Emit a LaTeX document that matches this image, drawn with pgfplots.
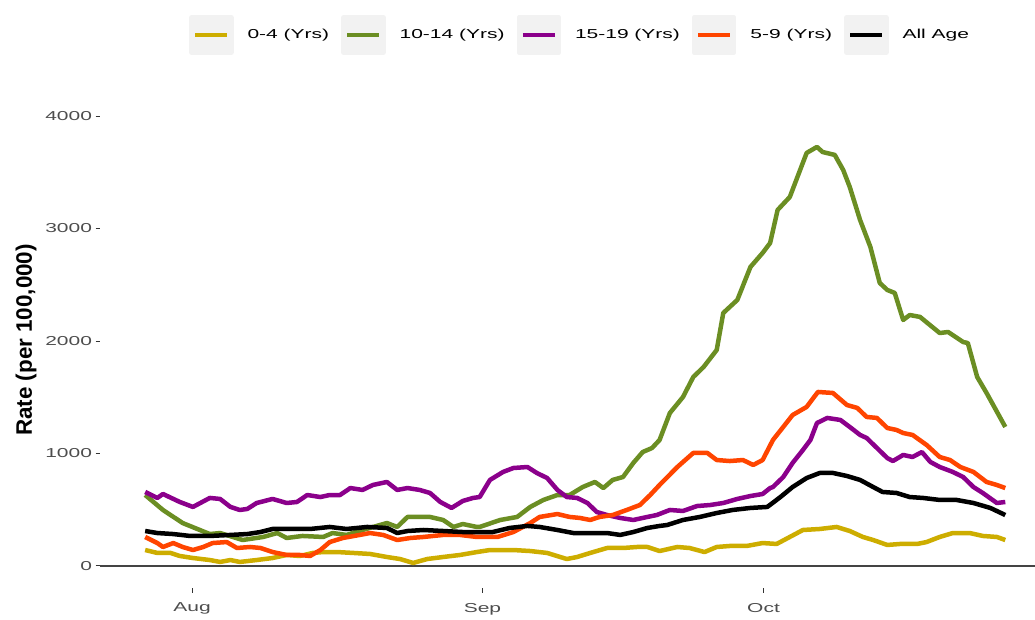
\documentclass[border=0pt]{standalone}
\usepackage{pgfplots}
\pgfplotsset{compat=1.18}
\usepackage{fontspec}
\setmainfont{Liberation Sans}[FakeStretch=1.62]
\newfontfamily\titlefont{Liberation Sans}
\definecolor{cGold}{HTML}{CDAD00}
\definecolor{cOlive}{HTML}{6B8E23}
\definecolor{cPurple}{HTML}{8B008B}
\definecolor{cOrange}{HTML}{FF4500}
\definecolor{keygray}{HTML}{F2F2F2}
\definecolor{labgray}{HTML}{4D4D4D}
\definecolor{tickgray}{HTML}{333333}
\definecolor{zerogray}{HTML}{444444}

\pgfplotstableread{
d v
-5.0 142
-3.7 116
-2.3 116
-1.3 89
0.1 71
1.9 53
3.0 36
4.1 53
5.1 36
6.9 53
8.6 71
10.1 98
11.5 89
12.9 116
14.0 124
15.5 124
17.2 116
19.0 107
20.8 80
22.2 62
23.6 27
25.1 62
26.8 80
28.6 98
30.4 124
31.8 142
34.3 142
36.1 133
37.9 116
39.3 80
40.0 62
41.1 80
42.5 116
44.3 160
46.0 160
47.5 169
48.6 169
49.9 133
51.8 169
53.1 160
54.7 124
56.0 169
57.4 178
59.2 178
60.9 204
62.4 196
63.8 258
65.2 320
67.0 329
68.8 347
70.2 311
71.6 258
72.7 231
74.2 187
75.6 196
77.4 196
78.4 213
79.8 258
81.2 293
83.0 293
84.4 267
85.9 258
86.8 231
}\tGold

\pgfplotstableread{
d v
-5.0 631
-3.1 498
-1.0 382
1.9 284
3.0 293
5.4 231
7.6 258
9.1 293
10.1 249
11.8 267
14.0 258
15.0 293
16.5 276
18.2 320
20.8 382
21.9 347
23.0 436
25.4 436
26.8 409
27.9 347
28.9 373
30.4 347
30.7 347
32.9 409
34.7 436
36.1 525
37.5 587
39.0 631
40.3 631
41.7 702
43.0 747
43.9 693
44.9 765
46.0 791
47.1 916
48.1 1013
49.1 1049
49.9 1120
51.0 1360
52.4 1502
53.5 1680
54.6 1769
56.0 1920
56.7 2249
58.2 2365
59.6 2658
60.9 2783
61.7 2871
62.5 3165
63.8 3280
64.9 3520
65.6 3672
66.7 3725
67.3 3680
68.6 3654
69.5 3520
70.2 3369
71.3 3076
72.4 2836
73.4 2516
74.2 2454
75.0 2427
75.9 2187
76.6 2231
77.7 2214
79.8 2071
80.7 2080
82.3 1991
82.8 1982
83.8 1680
84.8 1538
86.8 1236
}\tOlive

\pgfplotstableread{
d v
-5.0 658
-3.7 605
-3.1 640
-1.3 569
0.1 525
1.9 605
3.0 596
4.1 525
5.1 498
5.9 507
6.9 560
8.6 596
10.1 560
11.2 569
12.3 631
13.7 613
14.7 631
15.8 631
16.9 693
18.2 676
19.3 720
20.8 747
21.9 676
23.0 693
24.3 676
25.4 649
26.5 569
27.7 516
28.9 578
30.0 605
30.7 613
31.8 765
33.2 836
34.3 871
35.8 880
36.8 827
37.9 782
39.0 676
40.0 613
41.1 605
42.2 560
43.2 480
44.3 453
45.7 427
47.1 409
48.6 436
49.6 453
51.0 498
52.4 489
53.9 533
55.3 542
56.7 560
58.2 596
59.6 622
60.9 640
61.7 693
62.0 702
63.1 791
64.1 916
65.2 1031
66.0 1120
66.7 1271
67.8 1316
69.2 1298
70.2 1236
71.3 1165
72.0 1138
73.1 1049
74.2 960
74.8 933
75.9 987
76.9 969
77.9 1013
78.8 925
79.8 880
81.2 836
82.3 791
83.4 702
84.4 649
85.9 560
86.8 569
}\tPurple

\pgfplotstableread{
d v
-5.0 258
-3.7 204
-3.1 169
-2.0 204
-1.0 169
0.1 142
1.2 169
2.2 204
3.7 213
4.8 160
6.2 169
7.3 160
8.6 124
10.1 98
11.5 98
12.6 89
13.7 142
14.7 213
16.1 249
17.9 276
19.0 293
20.4 276
21.9 231
23.3 249
24.7 258
26.8 276
28.6 276
30.4 258
31.8 258
32.6 258
34.3 302
36.1 382
37.1 436
39.0 462
40.3 436
41.4 427
42.5 409
43.5 436
44.9 453
46.4 498
47.8 542
48.9 631
49.9 720
51.8 880
53.5 1005
55.0 1005
56.0 942
57.4 933
58.8 942
59.9 898
60.9 942
62.0 1120
63.1 1236
64.1 1342
65.6 1414
66.8 1547
68.4 1538
69.9 1431
71.0 1405
72.0 1325
73.1 1316
74.2 1227
75.2 1209
75.9 1182
76.9 1165
78.4 1076
79.8 969
80.9 942
82.0 880
83.4 836
84.8 747
85.9 720
86.8 693
}\tOrange

\pgfplotstableread{
d v
-5.0 311
-3.7 293
-2.0 284
-0.2 267
1.9 267
4.1 276
5.9 284
7.3 302
8.6 329
10.5 329
12.6 329
14.7 347
16.5 329
18.7 347
20.8 338
21.9 293
23.0 311
24.7 320
26.8 311
28.9 302
30.4 302
32.1 302
33.9 338
35.8 356
37.1 347
39.0 320
40.7 293
42.5 293
44.3 293
45.7 276
47.1 302
48.6 338
49.9 356
50.7 364
52.4 409
54.2 436
56.0 471
57.7 498
59.6 516
61.4 525
62.8 613
64.1 702
65.6 782
67.0 827
68.4 827
69.9 800
71.3 765
72.7 702
73.7 658
75.2 649
76.6 613
78.0 605
79.8 587
81.6 587
83.4 560
85.2 516
86.8 453
}\tAll

\begin{document}
\begin{tikzpicture}[x=1bp,y=1bp]
\begin{axis}[
  at={(100bp,32bp)}, anchor=south west,
  scale only axis, width=935bp, height=518bp,
  xmin=-9.82, xmax=89.97, ymin=-195.6, ymax=4409,
  axis x line*=bottom, axis y line*=left,
  axis line style={draw=none},
  tick align=outside, major tick length=4.5bp,
  tick style={color=tickgray, line width=1bp},
  xtick={0,31,61}, xticklabels={Aug,Sep,Oct},
  ytick={0,1000,2000,3000,4000},
  yticklabels={0,1000,2000,3000,4000},
  ticklabel style={font=\fontsize{13}{15}\selectfont, text=labgray},
  xticklabel style={yshift=-7bp},
  every axis plot/.append style={line width=4.5bp, line join=round},
  legend columns=5,
  legend cell align=left,
  legend style={draw=none, fill=none, at={(axis description cs:0.5134,1.0676)}, anchor=center,
    font=\fontsize{13}{15}\selectfont,
    /tikz/every odd column/.append style={column sep=12bp},
    /tikz/every even column/.append style={column sep=10bp}},
  legend image code/.code={
    \fill[keygray] (0bp,-17.5bp) rectangle (40bp,17.5bp);
    \draw[#1,line width=4.5bp] (4bp,0bp) -- (36bp,0bp);
  },
]
\draw[zerogray, line width=1.2bp] (axis cs:-9.82,0) -- (axis cs:89.97,0);
\addplot[cGold, no marks] table[x=d,y=v] {\tGold};
\addlegendentry{0-4 (Yrs)}
\addplot[cOlive, no marks] table[x=d,y=v] {\tOlive};
\addlegendentry{10-14 (Yrs)}
\addplot[cPurple, no marks] table[x=d,y=v] {\tPurple};
\addlegendentry{15-19 (Yrs)}
\addplot[cOrange, no marks] table[x=d,y=v] {\tOrange};
\addlegendentry{5-9 (Yrs)}
\addplot[black, no marks] table[x=d,y=v] {\tAll};
\addlegendentry{All Age}
\end{axis}
\node[rotate=90, font=\titlefont\bfseries\fontsize{22.5}{26}\selectfont] at (26bp,280bp) {Rate (per 100,000)};
\pgfresetboundingbox
\path (0,0) rectangle (1035bp,620bp);
\end{tikzpicture}
\end{document}
